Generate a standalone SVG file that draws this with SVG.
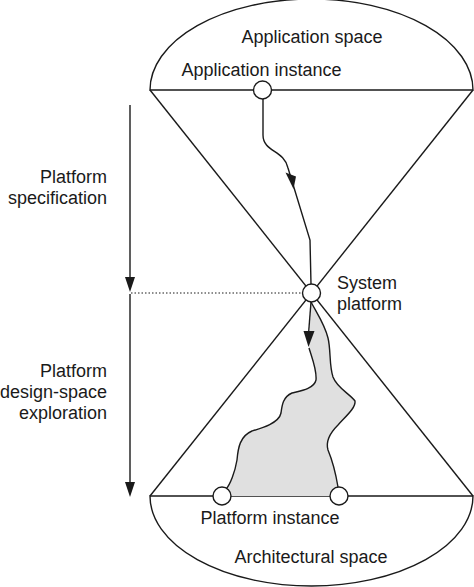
<svg xmlns="http://www.w3.org/2000/svg" width="474" height="587" viewBox="0 0 474 587">
<style>
.ln{fill:none;stroke:#1a1a1a;stroke-width:1.4}
.nd{fill:#fff;stroke:#1a1a1a;stroke-width:1.4}
.t{font-family:"Liberation Sans",Arial,sans-serif;font-size:18px;fill:#1a1a1a}
.m{text-anchor:middle}
.e{text-anchor:end}
.ah{fill:#1a1a1a;stroke:none}
</style>
<rect width="474" height="587" fill="#fff"/>
<g id="application-space">
<path class="ln" d="M150,90 A161.5,91 0 0 1 473,90 Z"/>
<text class="t m" x="312" y="43">Application space</text>
</g>
<g id="architectural-space">
<path class="ln" d="M150,496 A161.5,90 0 0 0 473,496 Z"/>
<text class="t m" x="311" y="563">Architectural space</text>
</g>
<g id="exploration-region">
<path fill="#e0e0e0" stroke="none" d="M311,302 C318,315 325,325 328,338 C331,350 329,365 333,377 C337,388 350,394 355,401 C356,408 345,417 338,425 C331,432 325,440 328,450 C333,462 336,475 338,487 L339,496 L222,496 L226,489 C230,485 235,472 237,460 C238,448 240,436 252,431 C262,428 279,423 281,413 C282,405 283,397 292,393 C300,391 314,389 316,380 C317,370 312,358 309,348 L311,302 Z"/>
<path class="ln" d="M311,302 C318,315 325,325 328,338 C331,350 329,365 333,377 C337,388 350,394 355,401 C356,408 345,417 338,425 C331,432 325,440 328,450 C333,462 336,475 338,487"/>
<path class="ln" d="M226,489 C230,485 235,472 237,460 C238,448 240,436 252,431 C262,428 279,423 281,413 C282,405 283,397 292,393 C300,391 314,389 316,380 C317,370 312,358 309,348"/>
</g>
<g id="connectors">
<line class="ln" x1="150" y1="90" x2="473" y2="496"/>
<line class="ln" x1="473" y1="90" x2="150" y2="496"/>
<path class="ln" d="M263,99 L263,135 C263,152 284,150 288,168 L310,240 L311,284"/>
<polygon class="ah" points="285.5,172.5 296,176.5 293.5,189"/>
<line class="ln" x1="311" y1="302" x2="308.5" y2="334"/>
<polygon class="ah" points="303.5,331 314.5,331 308.5,347"/>
<line class="ln" x1="130" y1="105" x2="130" y2="280"/>
<polygon class="ah" points="125,277 135,277 130,292"/>
<line class="ln" x1="130" y1="294" x2="130" y2="485"/>
<polygon class="ah" points="125,482 135,482 130,497"/>
<line x1="131" y1="293" x2="302" y2="293" stroke="#1a1a1a" stroke-width="1" stroke-dasharray="1.5,2"/>
</g>
<g id="application-instance">
<circle class="nd" cx="262.5" cy="90" r="9"/>
<text class="t m" x="261.5" y="76">Application instance</text>
</g>
<g id="system-platform">
<circle class="nd" cx="311.5" cy="293" r="9"/>
<text class="t" x="337" y="289">System</text>
<text class="t" x="337" y="310">platform</text>
</g>
<g id="platform-instance">
<circle class="nd" cx="222" cy="496" r="9"/>
<circle class="nd" cx="339" cy="496" r="9"/>
<text class="t m" x="270" y="524">Platform instance</text>
</g>
<g id="platform-specification">
<text class="t e" x="107" y="183">Platform</text>
<text class="t e" x="107" y="204">specification</text>
</g>
<g id="platform-dse">
<text class="t e" x="107" y="377">Platform</text>
<text class="t e" x="107" y="398">design-space</text>
<text class="t e" x="107" y="419">exploration</text>
</g>
</svg>
